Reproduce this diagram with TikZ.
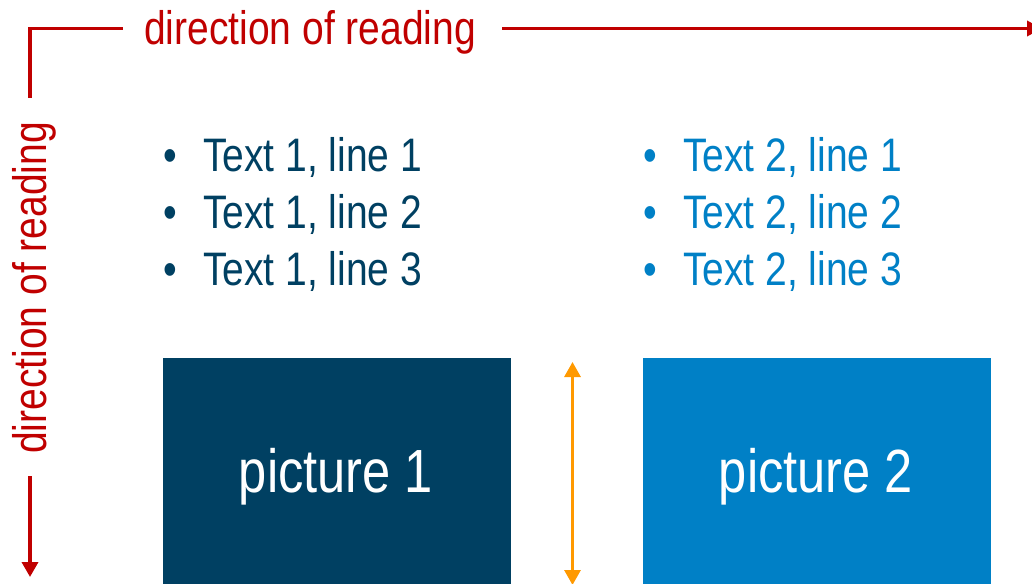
\documentclass[tikz,border=0pt]{standalone}
\usepackage{fontspec}
\setmainfont{Liberation Sans}[FakeStretch=0.83]
\usetikzlibrary{arrows.meta}
\definecolor{dirred}{HTML}{C00000}
\definecolor{darkblue}{HTML}{004062}
\definecolor{lightblue}{HTML}{0080C6}
\definecolor{arrorange}{HTML}{FF9900}
\tikzset{
  dirline/.style={draw=dirred, line width=3.5pt},
  dirtext/.style={text=dirred, inner sep=0pt, font=\fontsize{47pt}{56pt}\selectfont},
  bullettext/.style={inner sep=0pt, anchor=base west, font=\fontsize{47pt}{56pt}\selectfont},
  picbox/.style={inner sep=0pt, text=white, font=\fontsize{61pt}{70pt}\selectfont},
}
\newcommand{\bul}[1]{\makebox[40pt][l]{•}#1}
\begin{document}
\begin{tikzpicture}[x=1pt,y=-1pt]
\useasboundingbox (0,0) rectangle (1032,583);
\clip (0,0) rectangle (1032,583);
% top direction
\coordinate (cornerstart) at (30,98);
\coordinate (corner) at (30,28.5);
\coordinate (topA) at (123,28.5);
\coordinate (topB) at (502,28.5);
\coordinate (topEnd) at (1042,28.5);
\node[dirtext, anchor=base] (toptext) at (310,45) {direction of reading};
\draw[dirline] (cornerstart) -- (corner) -- (topA);
\draw[dirline, -{Triangle[length=15pt,width=15pt]}] (topB) -- (topEnd);
% left direction
\node[dirtext, anchor=base, rotate=90] (lefttext) at (46.5,288) {direction of reading};
\coordinate (leftA) at (30,476);
\coordinate (leftEnd) at (30,577);
\draw[dirline, -{Triangle[length=15pt,width=16pt]}] (leftA) -- (leftEnd);
% bullets
\node[bullettext, text=darkblue] (t11) at (163,171) {\bul{Text 1, line 1}};
\node[bullettext, text=darkblue] (t12) at (163,228) {\bul{Text 1, line 2}};
\node[bullettext, text=darkblue] (t13) at (163,285) {\bul{Text 1, line 3}};
\node[bullettext, text=lightblue] (t21) at (643,171) {\bul{Text 2, line 1}};
\node[bullettext, text=lightblue] (t22) at (643,228) {\bul{Text 2, line 2}};
\node[bullettext, text=lightblue] (t23) at (643,285) {\bul{Text 2, line 3}};
% pictures
\fill[darkblue] (163,358) rectangle (511,590);
\fill[lightblue] (643,358) rectangle (991,590);
\node[picbox, anchor=base] (pic1) at (336,492) {picture 1};
\node[picbox, anchor=base] (pic2) at (816,492) {picture 2};
% orange arrow
\coordinate (oTop) at (572.5,362);
\coordinate (oBot) at (572.5,585);
\draw[draw=arrorange, line width=3pt, {Triangle[length=15pt,width=16pt]}-{Triangle[length=15pt,width=16pt]}] (oTop) -- (oBot);
\end{tikzpicture}
\end{document}
